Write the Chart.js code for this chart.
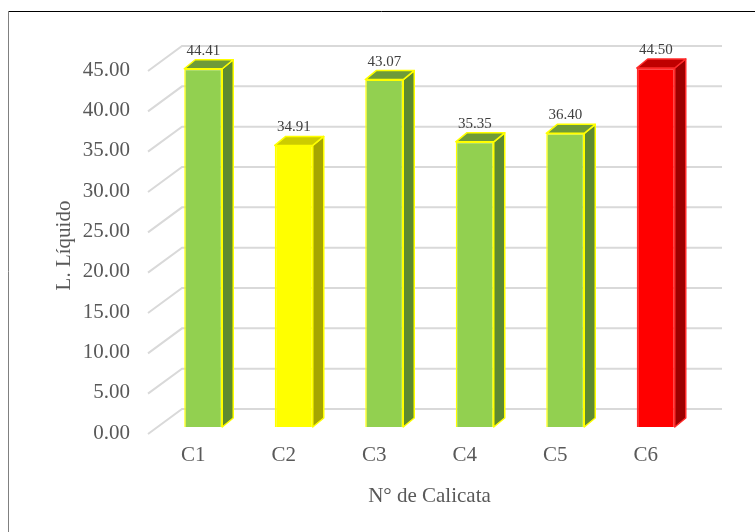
<!DOCTYPE html>
<html>
<head>
<meta charset="utf-8">
<script src="https://cdn.jsdelivr.net/npm/chart.js@4.4.1/dist/chart.umd.min.js"></script>
<style>
    body { margin: 0; background: #fff; }
    #wrap { position: relative; width: 755px; height: 532px; }
</style>
</head>
<body>
<div id="wrap"><canvas id="chart"></canvas></div>
<script>
// --- Data ---
const categories = ['C1', 'C2', 'C3', 'C4', 'C5', 'C6'];
const liquidLimit = [44.41, 34.91, 43.07, 35.35, 36.40, 44.50];
const yMin = 0;
const yMax = 45;
const yStep = 5;

// --- Bar styling (front / side / top faces, outline) ---
const frontColors = ['#92d050', '#ffff00', '#92d050', '#92d050', '#92d050', '#ff0000'];
const sideColors  = ['#5e8a30', '#a6a600', '#5e8a30', '#5e8a30', '#5e8a30', '#9c0000'];
const topColors   = ['#6e9b38', '#cccc00', '#6e9b38', '#6e9b38', '#6e9b38', '#bf0000'];
const edgeColors  = ['#ffff00', '#ffff00', '#ffff00', '#ffff00', '#ffff00', '#ff2a2a'];

const SERIF = '"Liberation Serif", "Times New Roman", serif';
const TEXT_GRAY = '#595959';

// depth of the fake 3D bars
const DEPTH_X = 11, DEPTH_Y = -9;

const bar3d = {
    id: 'bar3d',
    beforeDraw(chart) {
        // frame of the picture (only top and left edges are visible)
        const ctx = chart.ctx;
        ctx.save();
        ctx.lineWidth = 1;
        ctx.strokeStyle = '#000';
        ctx.beginPath(); ctx.moveTo(8, 11.5); ctx.lineTo(chart.width, 11.5); ctx.stroke();
        ctx.strokeStyle = '#808080';
        ctx.beginPath(); ctx.moveTo(8.5, 11); ctx.lineTo(8.5, chart.height); ctx.stroke();
        ctx.restore();
    },
    beforeDatasetsDraw(chart) {
        // slanted gridlines: floor edge -> back wall
        const {ctx, chartArea, scales: {y}} = chart;
        const frontX = chartArea.left - 10, backX = chartArea.left + 24, endX = chartArea.right + 21;
        ctx.save();
        ctx.strokeStyle = '#d9d9d9';
        ctx.lineWidth = 2;
        y.ticks.forEach(t => {
            const yb = y.getPixelForValue(t.value);
            ctx.beginPath();
            ctx.moveTo(frontX, yb + 7);
            ctx.lineTo(backX, yb - 18);
            ctx.lineTo(endX, yb - 18);
            ctx.stroke();
        });
        ctx.restore();
    },
    afterDatasetsDraw(chart) {
        const ctx = chart.ctx;
        const meta = chart.getDatasetMeta(0);
        ctx.save();
        ctx.lineWidth = 1.5;
        ctx.lineJoin = 'round';
        meta.data.forEach((bar, i) => {
            const l = bar.x - bar.width / 2, r = bar.x + bar.width / 2;
            const top = bar.y, base = bar.base;

            // side face
            ctx.beginPath();
            ctx.moveTo(r, top);
            ctx.lineTo(r + DEPTH_X, top + DEPTH_Y);
            ctx.lineTo(r + DEPTH_X, base + DEPTH_Y);
            ctx.lineTo(r, base);
            ctx.closePath();
            ctx.fillStyle = sideColors[i];
            ctx.fill();
            ctx.strokeStyle = edgeColors[i];
            ctx.stroke();

            // top face
            ctx.beginPath();
            ctx.moveTo(l, top);
            ctx.lineTo(l + DEPTH_X, top + DEPTH_Y);
            ctx.lineTo(r + DEPTH_X, top + DEPTH_Y);
            ctx.lineTo(r, top);
            ctx.closePath();
            ctx.fillStyle = topColors[i];
            ctx.fill();
            ctx.stroke();

            // value label
            ctx.fillStyle = '#404040';
            ctx.font = '15px ' + SERIF;
            ctx.textAlign = 'center';
            ctx.textBaseline = 'middle';
            ctx.fillText(liquidLimit[i].toFixed(2), bar.x, top - 18);
        });
        ctx.restore();
    }
};

const ctx = document.getElementById('chart').getContext('2d');
const chart = new Chart(ctx, {
    type: 'bar',
    data: {
        labels: categories,
        datasets: [{
            label: 'L. Líquido',
            data: liquidLimit,
            backgroundColor: frontColors,
            borderColor: edgeColors,
            borderWidth: 1.5,
            barPercentage: 0.42,
            categoryPercentage: 1
        }]
    },
    options: {
        responsive: true,
        maintainAspectRatio: false,
        animation: false,
        layout: { padding: { left: 0, right: 54, top: 64, bottom: 0 } },
        plugins: {
            legend: { display: false },
            tooltip: { enabled: false }
        },
        scales: {
            x: {
                grid: { display: false, drawTicks: false },
                border: { display: false },
                ticks: {
                    color: TEXT_GRAY,
                    font: { family: SERIF, size: 21 },
                    padding: 16,
                    labelOffset: -10
                },
                title: {
                    display: true,
                    text: 'N° de Calicata',
                    color: TEXT_GRAY,
                    font: { family: SERIF, size: 21 },
                    padding: { top: 0, bottom: 23 }
                },
                afterFit(scale) { scale.height = 105; }
            },
            y: {
                min: yMin,
                max: yMax,
                grid: { display: false, drawTicks: false },
                border: { display: false },
                ticks: {
                    stepSize: yStep,
                    color: TEXT_GRAY,
                    font: { family: SERIF, size: 21 },
                    padding: 28,
                    labelOffset: 6,
                    callback: v => v.toFixed(2)
                },
                title: {
                    display: true,
                    text: 'L. Líquido',
                    color: TEXT_GRAY,
                    font: { family: SERIF, size: 21 },
                    padding: { top: 52, bottom: 0 }
                },
                afterFit(scale) { scale.width = 158; }
            }
        }
    },
    plugins: [bar3d]
});
</script>
</body>
</html>
